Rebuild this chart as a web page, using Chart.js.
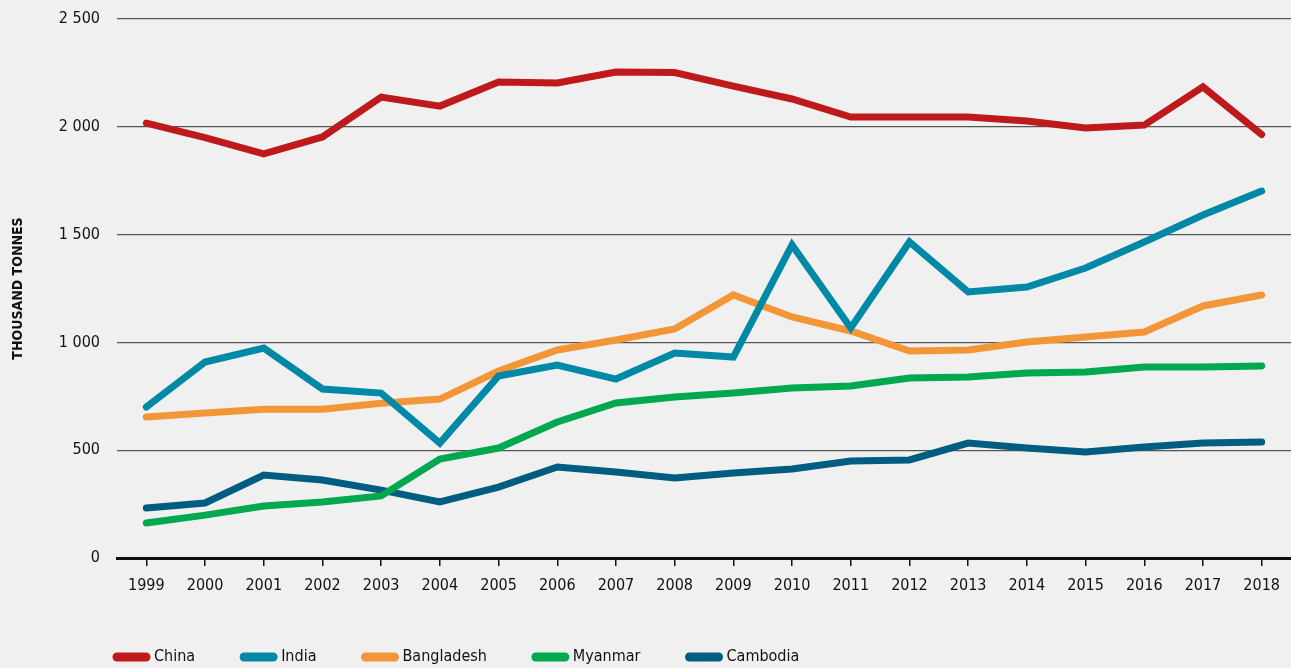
<!DOCTYPE html>
<html>
<head>
<meta charset="utf-8">
<script src="https://cdn.jsdelivr.net/npm/chart.js@4/dist/chart.umd.min.js"></script>
<style>
  html, body { margin: 0; padding: 0; background: #f0f0f0; overflow: hidden; }
  #wrap { width: 1291px; height: 675px; position: relative; }
</style>
</head>
<body>
<div id="wrap"><canvas id="lineChart"></canvas></div>
<script>
// Dữ liệu
const years = ["1999", "2000", "2001", "2002", "2003", "2004", "2005", "2006", "2007", "2008",
  "2009", "2010", "2011", "2012", "2013", "2014", "2015", "2016", "2017", "2018"];
const china = [2017, 1950, 1874, 1953, 2138, 2096, 2208, 2203, 2254, 2252,
  2189, 2129, 2045, 2045, 2045, 2027, 1994, 2008, 2185, 1964];
const india = [700, 909, 974, 784, 765, 533, 844, 895, 830, 951,
  932, 1452, 1067, 1466, 1234, 1257, 1345, 1466, 1591, 1702];
const bangladesh = [654, 672, 690, 690, 718, 737, 867, 965, 1011, 1062,
  1220, 1118, 1053, 960, 965, 1002, 1025, 1048, 1169, 1220];
const myanmar = [162, 199, 241, 260, 288, 459, 510, 631, 719, 747,
  765, 789, 798, 835, 840, 858, 863, 886, 886, 891];
const cambodia = [232, 255, 385, 362, 315, 260, 329, 422, 399, 371,
  394, 413, 450, 455, 533, 510, 492, 515, 533, 538];
const yTicks = [0, 500, 1000, 1500, 2000, 2500];

const FONT = "'Liberation Sans Narrow', 'DejaVu Sans Condensed', 'Roboto Condensed', sans-serif";

function series(label, data, color) {
  return {
    label: label,
    data: data,
    borderColor: color,
    backgroundColor: color,
    borderWidth: 7,
    borderCapStyle: "round",
    borderJoinStyle: "miter",
    pointRadius: 0,
    pointHoverRadius: 0,
    tension: 0,
    fill: false,
  };
}

// dịch chú thích sang phải cho giống hình gốc
const legendShift = {
  id: "legendShift",
  afterLayout(chart) {
    chart.legend.left = 68;
  },
};

const ctx = document.getElementById("lineChart").getContext("2d");
const lineChart = new Chart(ctx, {
  type: "line",
  data: {
    labels: years,
    datasets: [
      series("China", china, "#be1a1c"),
      series("India", india, "#0089a6"),
      series("Bangladesh", bangladesh, "#f39638"),
      series("Myanmar", myanmar, "#00a84f"),
      series("Cambodia", cambodia, "#005d82"),
    ],
  },
  options: {
    responsive: true,
    maintainAspectRatio: false,
    animation: false,
    layout: { padding: { top: 19, right: 0, left: 0, bottom: 0 } },
    plugins: {
      tooltip: { enabled: false },
      legend: {
        position: "bottom",
        align: "start",
        labels: {
          usePointStyle: true,
          pointStyleWidth: 29,
          padding: 49,
          color: "#111",
          font: { family: FONT, size: 16 },
          generateLabels: (chart) =>
            chart.data.datasets.map((ds, i) => ({
              text: ds.label,
              strokeStyle: ds.borderColor,
              fillStyle: ds.borderColor,
              lineWidth: 9,
              lineCap: "round",
              pointStyle: "line",
              datasetIndex: i,
              hidden: false,
              fontColor: "#111",
            })),
        },
      },
    },
    scales: {
      x: {
        offset: true,
        afterFit: (scale) => { scale.height = 42; },
        grid: {
          offset: false,
          drawOnChartArea: false,
          drawTicks: true,
          tickLength: 8,
          color: "#111",
          lineWidth: 1.5,
        },
        border: { display: true, color: "#111", width: 3 },
        ticks: {
          color: "#111",
          padding: 10,
          maxRotation: 0,
          autoSkip: false,
          font: { family: FONT, size: 16 },
        },
      },
      y: {
        min: 0,
        max: 2500,
        afterFit: (scale) => {
          scale.width = 117;
          scale.paddingTop = 9;
          scale.paddingBottom = 9;
        },
        afterBuildTicks: (scale) => {
          scale.ticks = yTicks.map((v) => ({ value: v }));
        },
        grid: {
          drawTicks: false,
          color: "#555",
          lineWidth: 1.2,
        },
        border: { display: false },
        ticks: {
          color: "#111",
          padding: 17,
          font: { family: FONT, size: 16 },
          callback: (v) => String(v).replace(/\B(?=(\d{3})+(?!\d))/g, " "),
        },
        title: {
          display: true,
          text: "THOUSAND TONNES",
          color: "#111",
          padding: { top: 10, bottom: 0 },
          font: { family: FONT, size: 14, weight: "bold" },
        },
      },
    },
  },
  plugins: [legendShift],
});
</script>
</body>
</html>
